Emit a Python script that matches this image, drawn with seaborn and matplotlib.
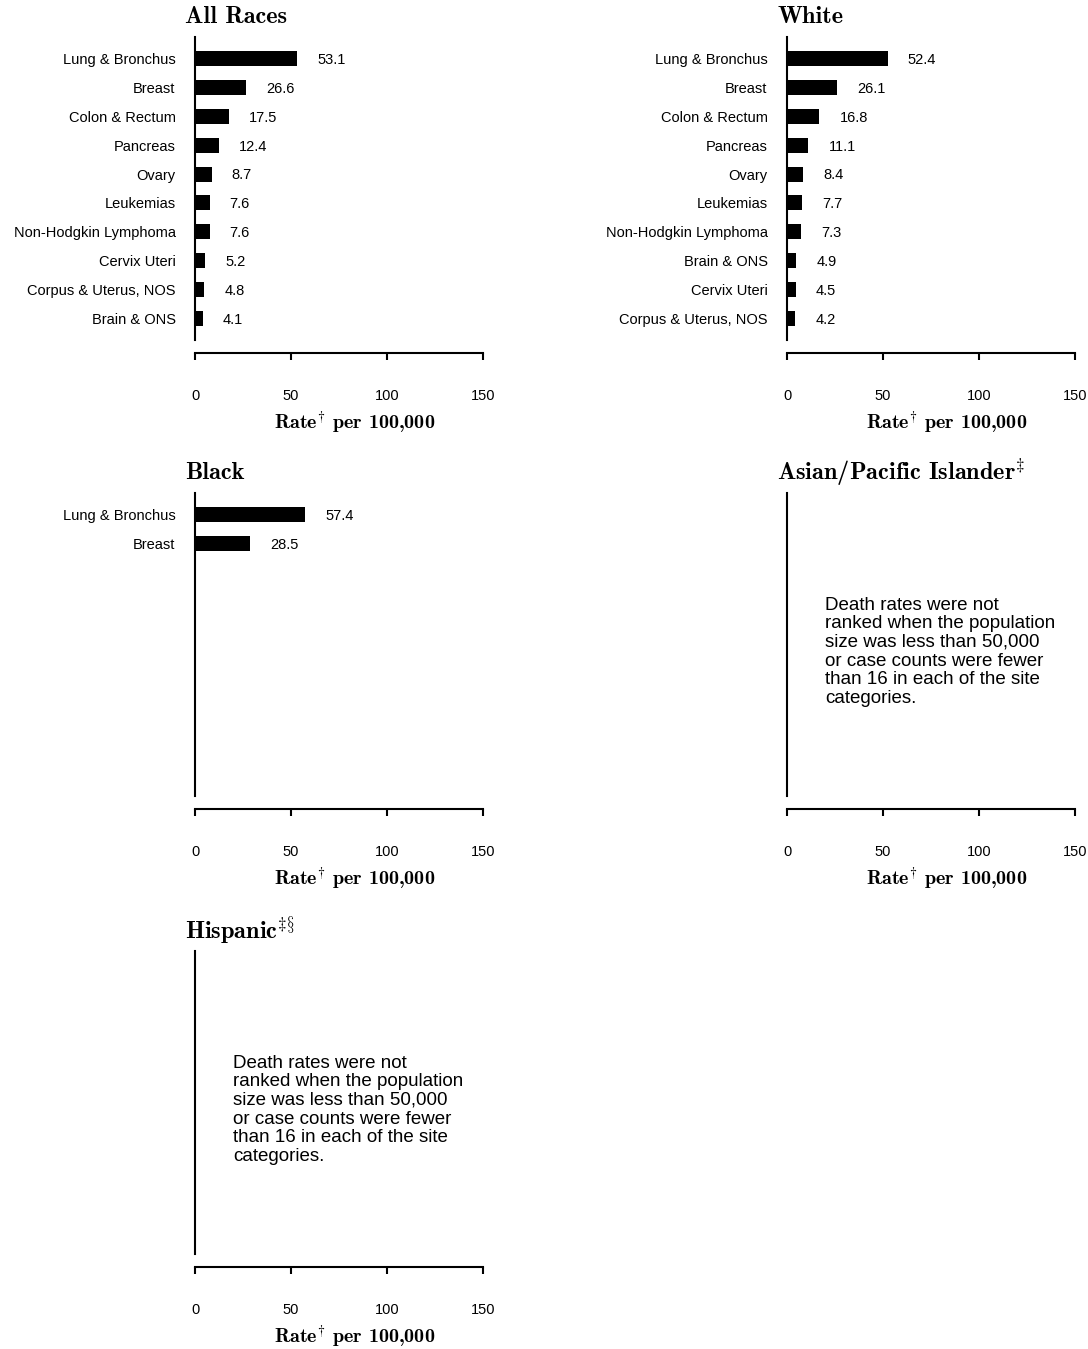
import pandas as pd
import numpy as np
import seaborn as sns
import matplotlib.pyplot as plt

# Dati (tassi per 100.000)
sites_all = ["Lung & Bronchus", "Breast", "Colon & Rectum", "Pancreas", "Ovary",
             "Leukemias", "Non-Hodgkin Lymphoma", "Cervix Uteri",
             "Corpus & Uterus, NOS", "Brain & ONS"]
rates_all = [53.1, 26.6, 17.5, 12.4, 8.7, 7.6, 7.6, 5.2, 4.8, 4.1]

sites_white = ["Lung & Bronchus", "Breast", "Colon & Rectum", "Pancreas", "Ovary",
               "Leukemias", "Non-Hodgkin Lymphoma", "Brain & ONS",
               "Cervix Uteri", "Corpus & Uterus, NOS"]
rates_white = [52.4, 26.1, 16.8, 11.1, 8.4, 7.7, 7.3, 4.9, 4.5, 4.2]

sites_black = ["Lung & Bronchus", "Breast"]
rates_black = [57.4, 28.5]

x_ticks = [0, 50, 100, 150]
note = ("Death rates were not\nranked when the population\nsize was less than 50,000\n"
        "or case counts were fewer\nthan 16 in each of the site\ncategories.")

sns.set_style("white")
plt.rcParams["font.family"] = ["Liberation Sans", "DejaVu Sans"]
plt.rcParams["mathtext.fontset"] = "cm"
plt.rcParams["axes.unicode_minus"] = False
for k in ["text.color", "axes.labelcolor", "xtick.color", "ytick.color", "axes.edgecolor"]:
    plt.rcParams[k] = "black"

W, H = 1088, 1349
fig = plt.figure(figsize=(W / 100, H / 100), dpi=100)

# posizioni dei pannelli in pixel (x sinistra, y alto)
cols = [195, 787]
rows = [37, 493, 951]
aw, ah = 288, 303

panels = [
    ("All Races", sites_all, rates_all, 0, 0),
    ("White", sites_white, rates_white, 0, 1),
    ("Black", sites_black, rates_black, 1, 0),
    (r"Asian/Pacific Islander$^{\ddagger}$", None, None, 1, 1),
    (r"Hispanic$^{\ddagger\S}$", None, None, 2, 0),
]

for title, sites, rates, r, c in panels:
    ax = fig.add_axes([cols[c] / W, 1 - (rows[r] + ah) / H, aw / W, ah / H])
    if sites is not None:
        df = pd.DataFrame({"site": sites, "rate": rates})
        sns.barplot(data=df, x="rate", y="site", orient="h", color="black",
                    width=0.52, saturation=1, edgecolor="none", ax=ax)
        for i, v in enumerate(rates):
            ax.annotate(f"{v:.1f}", xy=(v, i), xytext=(14.5, -1),
                        textcoords="offset points", ha="left", va="center",
                        fontsize=10.5)
        ax.tick_params(axis="y", length=0, pad=14, labelsize=10.5)
    else:
        ax.set_yticks([])
        ax.text(0.133, 0.476, note, transform=ax.transAxes, ha="left",
                va="center", fontsize=13.5, linespacing=1.12)

    ax.set_xlim(0, 150)
    ax.set_ylim(9.75, -0.75)
    ax.set_xticks(x_ticks)
    ax.tick_params(axis="x", bottom=True, length=5, width=1.5, direction="out",
                   pad=20.5, labelsize=10.5)
    ax.set_xlabel(r"Rate$^{\dagger}$ per 100,000", family="cmb10",
                  fontsize=14.5, va="center")
    ax.xaxis.set_label_coords(0.553, -83 / ah)
    ax.set_ylabel("")

    for s in ["top", "right"]:
        ax.spines[s].set_visible(False)
    ax.spines["left"].set_linewidth(1.5)
    ax.spines["bottom"].set_linewidth(1.5)
    ax.spines["bottom"].set_position(("outward", 9.5))
    ax.spines["bottom"].set_bounds(0, 150)

    ax.text(-10 / aw, (ah + 20) / ah, title, transform=ax.transAxes,
            ha="left", va="center", fontsize=17.5, family="cmb10")

fig.savefig("out.png", dpi=100)
